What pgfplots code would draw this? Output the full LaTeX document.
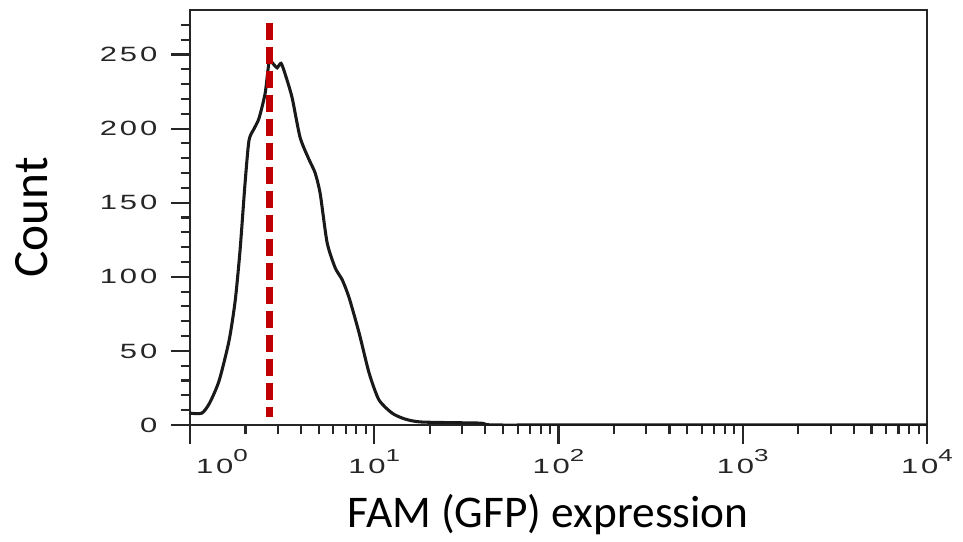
\documentclass[border=0pt]{standalone}
\usepackage{fontspec}
\setmainfont{Carlito}
\newfontfamily\tickfont[FakeStretch=1.5,LetterSpace=14]{Liberation Sans}
\usepackage{pgfplots}
\pgfplotsset{compat=1.18}
\usepackage{xcolor}
\definecolor{markred}{HTML}{C00000}
\definecolor{ticktext}{HTML}{262626}
\newcommand{\dec}[1]{10\raisebox{0.55em}{\fontsize{13}{15}\selectfont #1}}

\begin{document}
\begin{tikzpicture}
\begin{axis}[
  name=hist,
  scale only axis,
  width=552.75pt,height=311.25pt,
  xmode=log,
  xmin=1,xmax=10000,ymin=0,ymax=280,
  axis line style={line width=2pt,black!85},
  tick align=outside,
  xtick pos=bottom,ytick pos=left,
  major tick length=14pt,minor tick length=7pt,
  tick style={line width=1.6pt,black!85},
  xtick={1,10,100,1000,10000},
  minor xtick={2,3,4,5,6,7,8,9,20,30,40,50,60,70,80,90,200,300,400,500,600,700,800,900,2000,3000,4000,5000,6000,7000,8000,9000},
  xticklabels={\hspace*{48pt}\dec{0},\dec{1},\dec{2},\dec{3},\dec{4}},
  ytick={0,50,100,150,200,250},
  minor ytick={10,20,30,40,60,70,80,90,110,120,130,140,160,170,180,190,210,220,230,240,260,270},
  yticklabels={0,50,100,150,200,250},
  ticklabel style={font=\tickfont\fontsize{15.5}{18}\selectfont,text=ticktext},
  xticklabel style={anchor=north,yshift=-1pt},
  yticklabel style={anchor=east,xshift=-7pt},
  xlabel={FAM (GFP) expression},
  ylabel={Count},
  every axis x label/.style={at={(rel axis cs:0.486,0)},yshift=-67.5pt,anchor=center,font=\fontsize{34}{40}\selectfont},
  every axis y label/.style={at={(rel axis cs:0,0.5)},xshift=-118.5pt,anchor=center,rotate=90,font=\fontsize{37}{44}\selectfont},
]
\addplot[line width=2.3pt,black!90,smooth,tension=0.4] coordinates {
(1.00,8) (1.16,8) (1.28,15) (1.44,30) (1.63,57) (1.76,84) (1.87,118) (1.99,163)
(2.09,192) (2.23,200) (2.37,207) (2.56,224) (2.69,245) (2.86,243) (2.97,241)
(3.12,244) (3.28,237) (3.58,221) (3.96,194) (4.43,179) (4.78,170) (5.09,156)
(5.55,123) (6.14,106) (6.70,98) (7.30,86) (8.28,62) (9.38,35) (10.6,17)
(12.5,8) (14.7,4) (18.2,2) (37,1.3) (40,0.5) (45,0) (100,0) (1000,0) (10000,0)
};
\addplot[line width=5.5pt,markred,dash pattern=on 12.75pt off 5.25pt] coordinates {(2.70,271.5) (2.70,5.5)};
\end{axis}
\pgfresetboundingbox
\path ([xshift=-142.5pt,yshift=-87.75pt]hist.south west) rectangle ([xshift=27pt,yshift=7.5pt]hist.north east);
\end{tikzpicture}
\end{document}
